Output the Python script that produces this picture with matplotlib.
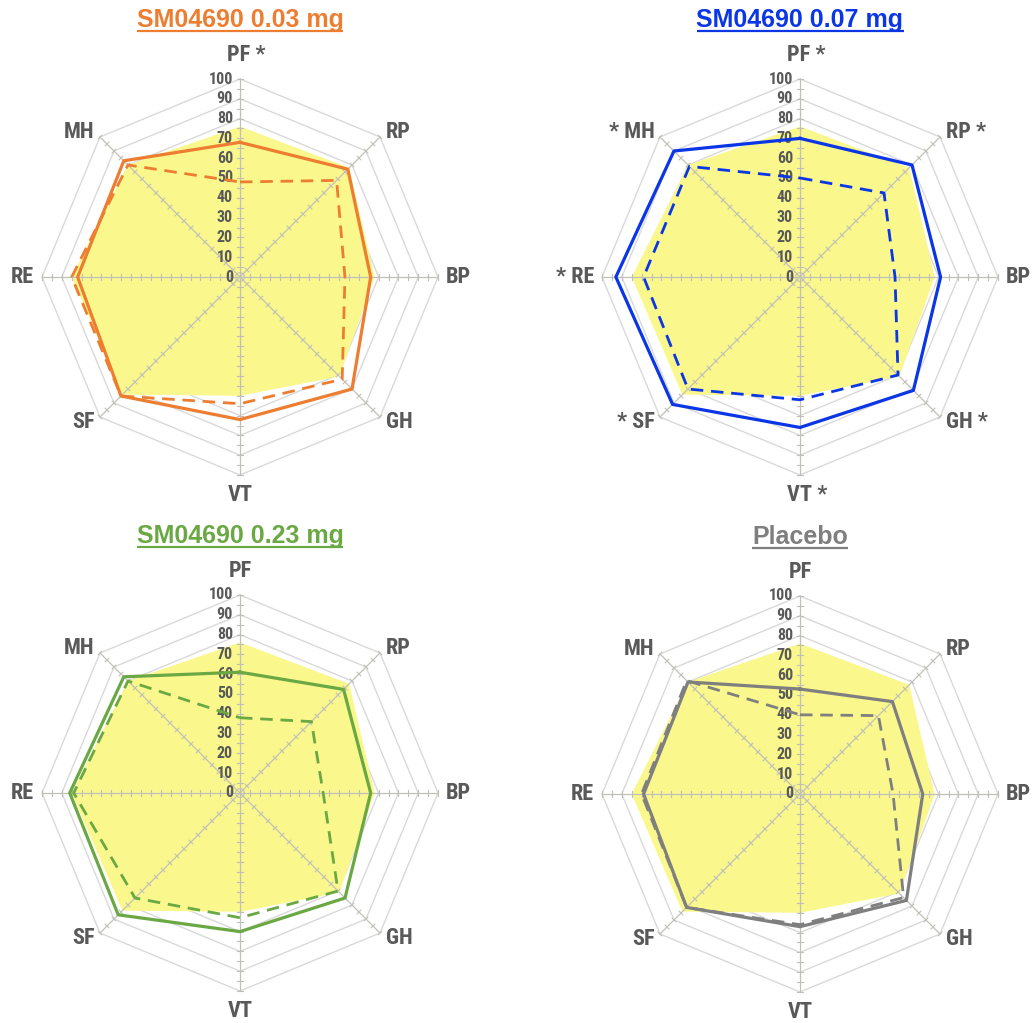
import numpy as np
import matplotlib
matplotlib.use('Agg')
from matplotlib import pyplot as plt

# SF-36 domains, clockwise from the top
categories = ['PF', 'RP', 'BP', 'GH', 'VT', 'SF', 'RE', 'MH']

# population norm (shaded area)
norm = [76, 78, 68, 71, 60, 84, 85, 80]

# week 52 (solid) and baseline (dashed) per group
low_post = [68, 77, 66, 80, 72, 85, 82, 83]
low_base = [48, 69, 53, 73, 64, 85, 85, 80]
mid_post = [70, 80, 71, 81, 76, 91, 93, 90]
mid_base = [50, 60, 48, 70, 62, 80, 79, 79]
high_post = [61, 74, 66, 75, 70, 87, 86, 83]
high_base = [38, 51, 42, 70, 63, 75, 84, 80]
pbo_post = [53, 66, 62, 76, 67, 81, 79, 80]
pbo_base = [40, 56, 47, 74, 66, 81, 80, 81]

titles = ['SM04690 0.03 mg', 'SM04690 0.07 mg', 'SM04690 0.23 mg', 'Placebo']
colors = ['#ED7D31', '#0A36E6', '#6AA843', '#7F7F7F']
posts = [low_post, mid_post, high_post, pbo_post]
bases = [low_base, mid_base, high_base, pbo_base]
# significance marks: 'r' -> "XX *", 'l' -> "* XX"
stars = [
    {'PF': 'r'},
    {'PF': 'r', 'RP': 'r', 'GH': 'r', 'VT': 'r', 'SF': 'l', 'RE': 'l', 'MH': 'l'},
    {},
    {},
]
ticks = list(range(0, 101, 10))

W, H = 1033, 1023
centers = [(240, 277), (800, 277), (240, 793), (800, 794)]
SCALE = 1.98   # pixels per score unit
LIM = 122

narrow = ['Roboto Condensed', 'Liberation Sans', 'DejaVu Sans']
LABEL_GRAY = '#595959'

fig = plt.figure(figsize=(W / 100, H / 100), dpi=100)

ang = np.deg2rad(90 - 45 * np.arange(len(categories)))


def xy(vals):
    v = np.asarray(vals, dtype=float)
    x = v * np.cos(ang)
    y = v * np.sin(ang)
    return np.append(x, x[0]), np.append(y, y[0])


title_objs = []
for k in range(4):
    cx, cy = centers[k]
    half = LIM * SCALE
    ax = fig.add_axes([(cx - half) / W, 1 - (cy + half) / H, 2 * half / W, 2 * half / H])
    ax.set_xlim(-LIM, LIM)
    ax.set_ylim(-LIM, LIM)
    ax.axis('off')

    # octagonal rings
    for r in ticks[1:]:
        gx, gy = xy([r] * 8)
        ax.plot(gx, gy, color='#D9D9D9', lw=1.0, zorder=1)

    # norm area
    nx, ny = xy(norm)
    ax.fill(nx, ny, color='#FAF78C', lw=0, zorder=2)

    # spokes with small ticks every 5
    for a in ang:
        c, s = np.cos(a), np.sin(a)
        ax.plot([0, 100 * c], [0, 100 * s], color='#C0C0B8', lw=0.9, zorder=3)
        for t in range(5, 101, 5):
            px, py = -s * 1.3, c * 1.3
            ax.plot([t * c - px, t * c + px], [t * s - py, t * s + py],
                    color='#C0C0B8', lw=0.8, zorder=3)
    th = np.linspace(0, 2 * np.pi, 60)
    ax.plot(2.2 * np.cos(th), 2.2 * np.sin(th), color='#C0C0B8', lw=0.8, zorder=3)

    # scale numbers
    for t in ticks:
        ax.text(-3.5, t, str(t), ha='right', va='center', fontsize=11.5,
                fontweight='bold', color=LABEL_GRAY, family=narrow, zorder=4)

    # baseline and follow-up
    bx, by = xy(bases[k])
    ax.plot(bx, by, color=colors[k], lw=2.0, ls=(0, (4.5, 2.8)), zorder=5)
    px_, py_ = xy(posts[k])
    ax.plot(px_, py_, color=colors[k], lw=2.3, zorder=6)

    # domain labels
    for i, name in enumerate(categories):
        mark = stars[k].get(name)
        txt = name
        if mark == 'r':
            txt = name + ' *'
        elif mark == 'l':
            txt = '* ' + name
        a = ang[i]
        c, s = np.cos(a), np.sin(a)
        if abs(c) < 1e-6:
            ha = 'center'
            x, y = 0, (112 if s > 0 else -110)
            if mark == 'r':
                ha = 'left'
                x = -6.5
        elif abs(s) < 1e-6:
            ha = 'left' if c > 0 else 'right'
            x, y = 104 * np.sign(c), 0
        else:
            ha = 'left' if c > 0 else 'right'
            x, y = 73.5 * np.sign(c), 73 * np.sign(s)
        ax.text(x, y, txt, ha=ha, va='center', fontsize=16, fontweight='bold',
                color=LABEL_GRAY, family=narrow, zorder=7)

    t_obj = ax.text(0, 130, titles[k], ha='center', va='center', fontsize=18,
                    fontweight='bold', color=colors[k],
                    family=['Liberation Sans', 'DejaVu Sans'], clip_on=False)
    title_objs.append((ax, t_obj, colors[k]))

# underline the panel titles
fig.canvas.draw()
renderer = fig.canvas.get_renderer()
for ax, t_obj, col in title_objs:
    bb = t_obj.get_window_extent(renderer)
    inv = ax.transData.inverted()
    (x0, y0), (x1, _) = inv.transform([(bb.x0, bb.y0), (bb.x1, bb.y0)])
    ax.plot([x0, x1], [y0 + 0.3, y0 + 0.3], color=col, lw=1.6, clip_on=False,
            solid_capstyle='butt')

fig.savefig('out.png', dpi=100, facecolor='white')
